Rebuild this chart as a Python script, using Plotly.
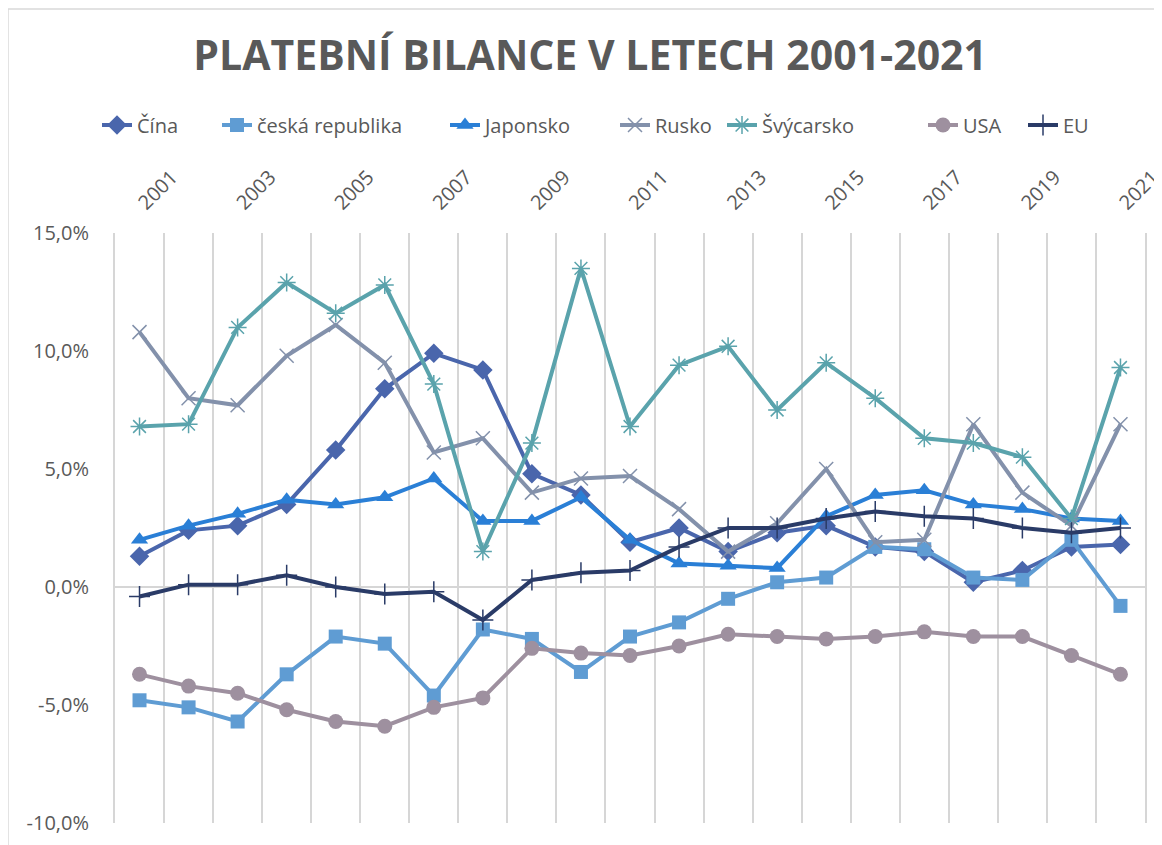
import plotly.graph_objects as go

years = list(range(2001, 2022))

cina = [1.3, 2.4, 2.6, 3.5, 5.8, 8.4, 9.9, 9.2, 4.8, 3.9, 1.9, 2.5, 1.5, 2.3, 2.6, 1.7, 1.5, 0.2, 0.7, 1.7, 1.8]
cr = [-4.8, -5.1, -5.7, -3.7, -2.1, -2.4, -4.6, -1.8, -2.2, -3.6, -2.1, -1.5, -0.5, 0.2, 0.4, 1.7, 1.6, 0.4, 0.3, 2.0, -0.8]
japonsko = [2.0, 2.6, 3.1, 3.7, 3.5, 3.8, 4.6, 2.8, 2.8, 3.8, 2.0, 1.0, 0.9, 0.8, 3.0, 3.9, 4.1, 3.5, 3.3, 2.9, 2.8]
rusko = [10.8, 8.0, 7.7, 9.8, 11.1, 9.5, 5.7, 6.3, 4.0, 4.6, 4.7, 3.3, 1.5, 2.7, 5.0, 1.9, 2.0, 6.9, 4.0, 2.6, 6.9]
svycarsko = [6.8, 6.9, 11.0, 12.9, 11.6, 12.8, 8.6, 1.5, 6.1, 13.5, 6.8, 9.4, 10.2, 7.5, 9.5, 8.0, 6.3, 6.1, 5.5, 2.9, 9.3]
usa = [-3.7, -4.2, -4.5, -5.2, -5.7, -5.9, -5.1, -4.7, -2.6, -2.8, -2.9, -2.5, -2.0, -2.1, -2.2, -2.1, -1.9, -2.1, -2.1, -2.9, -3.7]
eu = [-0.4, 0.1, 0.1, 0.5, 0.0, -0.3, -0.2, -1.4, 0.3, 0.6, 0.7, 1.7, 2.5, 2.5, 2.9, 3.2, 3.0, 2.9, 2.5, 2.3, 2.5]

y_ticks = [-10, -5, 0, 5, 10, 15]

series = [
    ("Čína", cina, "#4A66AC", "diamond", 15),
    ("česká republika", cr, "#5F9CD3", "square", 14),
    ("Japonsko", japonsko, "#2A7FD6", "triangle-up", 15),
    ("Rusko", rusko, "#8391AB", "x-thin-open", 14),
    ("Švýcarsko", svycarsko, "#5AA3AC", "asterisk-open", 15),
    ("USA", usa, "#9E909F", "circle", 15),
    ("EU", eu, "#2A3B67", "cross-thin-open", 15),
]

# legend marker centres (screen px) of each legend entry
legend_px = [117, 237, 465, 635, 742, 943, 1043]

PLOT_L, PLOT_W = 107, 1030

fig = go.Figure()
legend_layout = {}
for i, (name, vals, color, sym, size) in enumerate(series):
    open_sym = sym.endswith("open")
    lg = "legend" if i == 0 else f"legend{i + 1}"
    fig.add_trace(go.Scatter(
        x=years, y=vals, name=name, mode="lines+markers",
        line=dict(color=color, width=4),
        marker=dict(symbol=sym, size=size, color=color,
                    line=dict(color=color, width=1.5 if open_sym else 0)),
        legend=lg, showlegend=True,
    ))
    fig_x = legend_px[i] - 8 - 20
    legend_layout[lg] = dict(
        orientation="h", x=(fig_x - PLOT_L) / PLOT_W, xanchor="left",
        y=1.183, yanchor="middle", bgcolor="rgba(0,0,0,0)",
        font=dict(size=20, color="#595959", family="Open Sans"),
    )

odd_years = [y for y in years if y % 2 == 1]
boundaries = [y - 0.5 for y in years] + [years[-1] + 0.5]

fig.update_layout(
    width=1162, height=845,
    showlegend=True,
    margin=dict(l=107, r=25, t=225, b=30, autoexpand=False),
    paper_bgcolor="white", plot_bgcolor="white",
    font=dict(family="Open Sans", color="#595959"),
    title=dict(text="<b>PLATEBNÍ BILANCE V LETECH 2001-2021</b>",
               x=0.501, xanchor="center", y=0.944, yanchor="middle",
               font=dict(size=41, color="#595959", family="Open Sans")),
    xaxis=dict(
        range=[years[0] - 0.5, years[-1] + 0.5], side="top", automargin=False,
        tickmode="array", tickvals=odd_years, ticktext=[str(y) for y in odd_years],
        tickangle=-45, showgrid=False, zeroline=False, showline=False, ticks="",
        ticklabelstandoff=14,
        tickfont=dict(size=20, color="#595959"),
        minor=dict(tickmode="array", tickvals=boundaries, showgrid=True,
                   gridcolor="#D6D6D6", gridwidth=2, ticks=""),
    ),
    yaxis=dict(
        range=[-10, 15], tickmode="array", tickvals=y_ticks, automargin=False,
        ticktext=[f"{v:.1f}%".replace(".", ",") for v in y_ticks],
        showgrid=False, ticklabelstandoff=20,
        zeroline=True, zerolinecolor="#D6D6D6", zerolinewidth=2,
        showline=True, linecolor="#D6D6D6", linewidth=2, mirror=True,
        ticks="", tickfont=dict(size=20, color="#595959"),
    ),
    shapes=[dict(type="rect", xref="paper", yref="paper",
                 x0=-0.1039, x1=1.03, y0=-0.07, y1=1.3797,
                 line=dict(color="#D9D9D9", width=1.5), layer="below")],
    **legend_layout,
)

fig.write_html("out.html")
